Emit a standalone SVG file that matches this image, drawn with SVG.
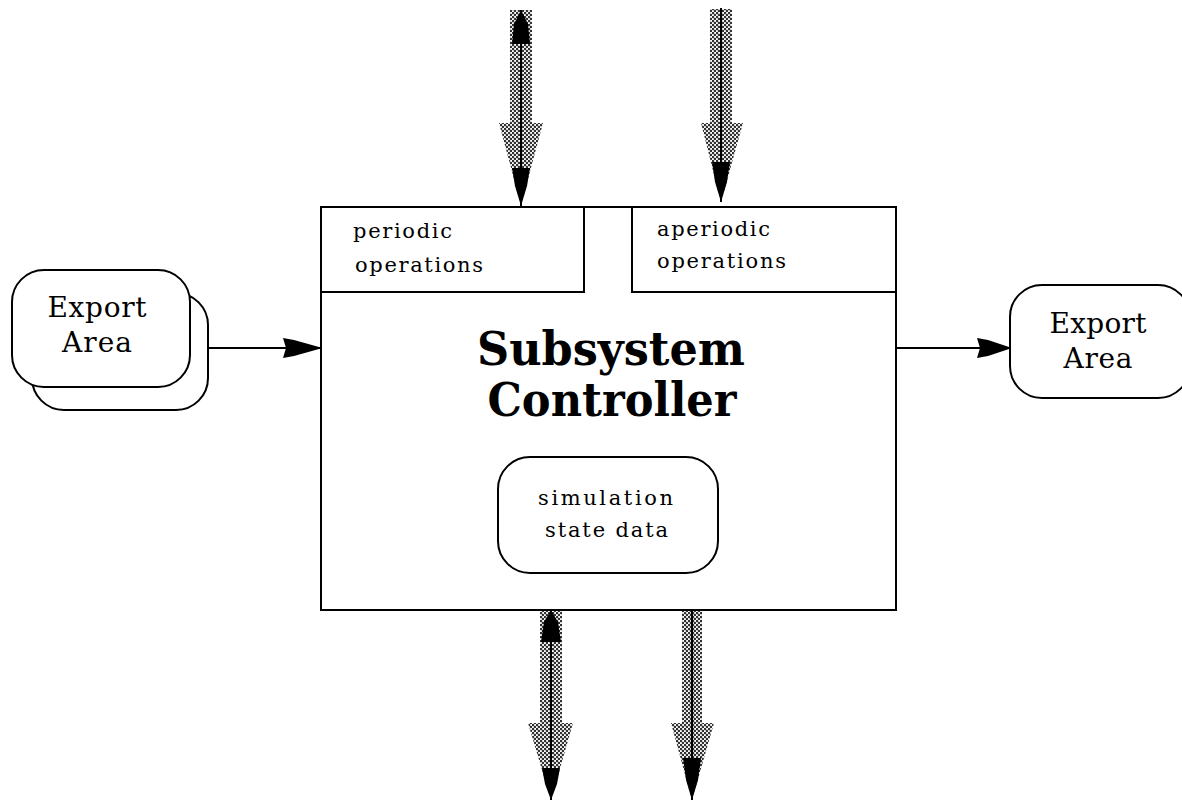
<svg xmlns="http://www.w3.org/2000/svg" width="1182" height="804" viewBox="0 0 1182 804">
<defs>
  <pattern id="stipple" width="4" height="4" patternUnits="userSpaceOnUse">
    <rect width="4" height="4" fill="#ffffff"/>
    <circle cx="1" cy="1" r="1.3" fill="#333"/>
    <circle cx="3" cy="3" r="1.3" fill="#333"/>
  </pattern>
</defs>
<style>
  .box { fill: #ffffff; stroke: #000; stroke-width: 2; }
  .line { stroke: #000; stroke-width: 2; fill: none; }
  .head { fill: #000; stroke: none; }
  .gray { fill: url(#stipple); stroke: none; }
  .small { font-family: "DejaVu Serif", "Liberation Serif", serif; font-size: 21px; fill: #000; }
  .mid { font-family: "DejaVu Serif", "Liberation Serif", serif; font-size: 28px; fill: #000; text-anchor: middle; }
  .title { font-family: "DejaVu Serif", "Liberation Serif", serif; font-size: 46px; font-weight: bold; fill: #000; text-anchor: middle; }
</style>
<rect width="1182" height="804" fill="#ffffff"/>

<g id="subsystem-controller">
  <rect class="box" x="321" y="207" width="575" height="403"/>
  <text class="title" x="611" y="365" textLength="268" lengthAdjust="spacingAndGlyphs">Subsystem</text>
  <text class="title" x="612" y="416" textLength="249" lengthAdjust="spacingAndGlyphs">Controller</text>
</g>

<g id="periodic-operations">
  <rect class="box" x="321" y="207" width="263" height="85"/>
  <text class="small" x="353" y="238" textLength="99" lengthAdjust="spacing">periodic</text>
  <text class="small" x="355" y="272" textLength="128" lengthAdjust="spacing">operations</text>
</g>

<g id="aperiodic-operations">
  <rect class="box" x="632" y="207" width="264" height="85"/>
  <text class="small" x="657" y="236" textLength="113" lengthAdjust="spacing">aperiodic</text>
  <text class="small" x="657" y="268" textLength="129" lengthAdjust="spacing">operations</text>
</g>

<g id="simulation-state-data">
  <rect class="box" x="498" y="457" width="220" height="116" rx="32" ry="32"/>
  <text class="small" x="538" y="505" textLength="135" lengthAdjust="spacing">simulation</text>
  <text class="small" x="545" y="537" textLength="123" lengthAdjust="spacing">state data</text>
</g>

<g id="export-area-left">
  <rect class="box" x="32" y="293" width="176" height="117" rx="32" ry="32"/>
  <rect class="box" x="12" y="270" width="178" height="117" rx="32" ry="32"/>
  <text class="mid" x="97" y="317" textLength="99" lengthAdjust="spacing">Export</text>
  <text class="mid" x="97" y="352" textLength="70" lengthAdjust="spacing">Area</text>
</g>

<g id="export-area-right">
  <rect class="box" x="1010" y="285" width="180" height="113" rx="32" ry="32"/>
  <text class="mid" x="1098" y="333" textLength="97" lengthAdjust="spacing">Export</text>
  <text class="mid" x="1098" y="368" textLength="69" lengthAdjust="spacing">Area</text>
</g>

<g id="connectors">
  <!-- left export to controller -->
  <line class="line" x1="208" y1="348" x2="320" y2="348"/>
  <polygon class="head" points="283,338 294,340 319,347 319,349 294,356 283,358 286,348"/>
  <!-- controller to right export -->
  <line class="line" x1="897" y1="348" x2="1009" y2="348"/>
  <polygon class="head" points="977,338 988,340 1009,347 1009,349 988,356 977,358 980,348"/>

  <!-- top-left bidirectional flow -->
  <rect class="gray" x="510" y="10" width="22" height="114"/>
  <polygon class="gray" points="499,123 543,123 521,205"/>
  <line class="line" x1="521" y1="10" x2="521" y2="206"/>
  <polygon class="head" points="521,10 528,24 530,44 512,44 514,24"/>
  <polygon class="head" points="512,168 530,168 527,186 521,206 515,186"/>

  <!-- top-right inbound flow -->
  <rect class="gray" x="710" y="9" width="22" height="115"/>
  <polygon class="gray" points="701,123 743,123 721,202"/>
  <line class="line" x1="721" y1="8" x2="721" y2="202"/>
  <polygon class="head" points="712,162 730,162 727,182 721,202 715,182"/>

  <!-- bottom-left bidirectional flow -->
  <rect class="gray" x="540" y="611" width="22" height="113"/>
  <polygon class="gray" points="528,723 573,723 551,800"/>
  <line class="line" x1="551" y1="610" x2="551" y2="800"/>
  <polygon class="head" points="551,610 558,622 561,642 541,642 544,622"/>
  <polygon class="head" points="542,768 560,768 557,784 551,800 545,784"/>

  <!-- bottom-right outbound flow -->
  <rect class="gray" x="682" y="611" width="20" height="113"/>
  <polygon class="gray" points="671,723 714,723 692,800"/>
  <line class="line" x1="692" y1="610" x2="692" y2="800"/>
  <polygon class="head" points="683,758 701,758 698,780 692,800 686,780"/>
</g>
</svg>
